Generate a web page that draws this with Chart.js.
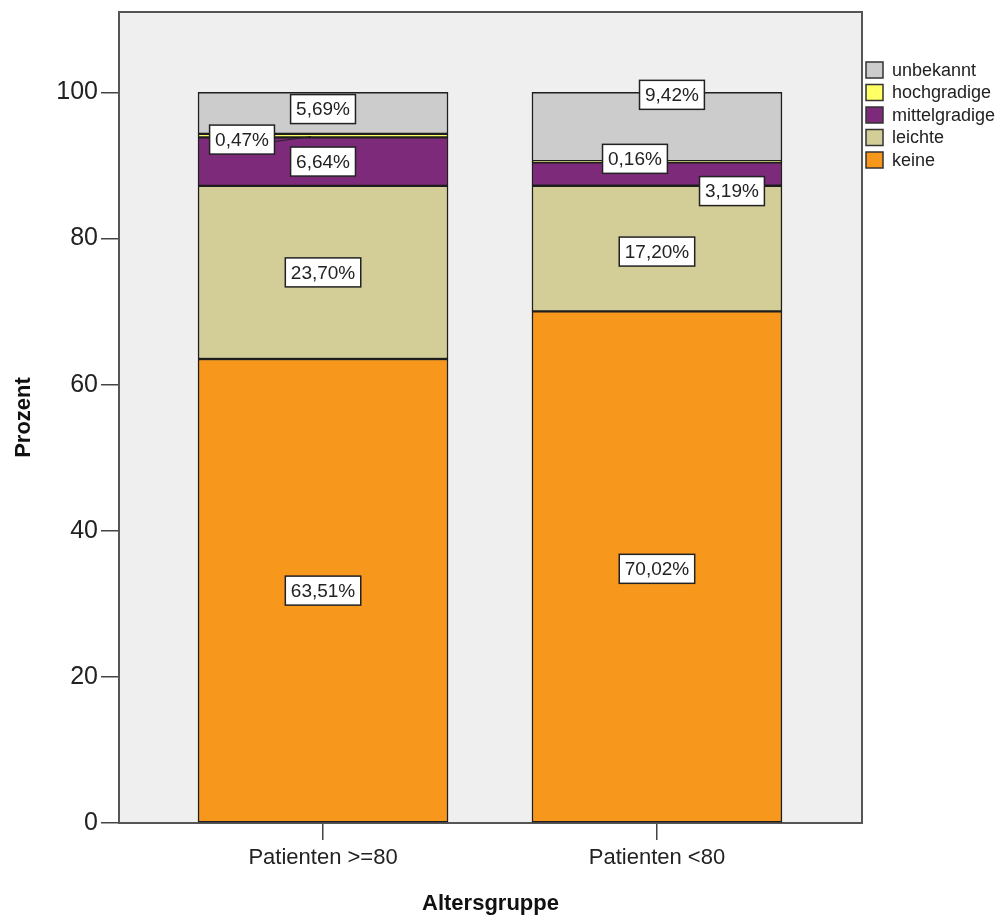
<!DOCTYPE html>
<html>
<head>
<meta charset="utf-8">
<script src="https://cdn.jsdelivr.net/npm/chart.js@4/dist/chart.umd.min.js"></script>
<style>
  html, body { margin: 0; padding: 0; background: #fff; }
  #wrap { width: 1007px; height: 917px; }
</style>
</head>
<body>
<div id="wrap"><canvas id="chart" width="1007" height="917"></canvas></div>
<script>
// --- data ---
const categories = ['Patienten >=80', 'Patienten <80'];
const seriesNames = ['keine', 'leichte', 'mittelgradige', 'hochgradige', 'unbekannt'];
const keine = [63.51, 70.02];
const leichte = [23.70, 17.20];
const mittelgradige = [6.64, 3.19];
const hochgradige = [0.47, 0.16];
const unbekannt = [5.69, 9.42];
const yTicks = [0, 20, 40, 60, 80, 100];

// --- styling ---
const seriesColors = ['#f7981d', '#d3ce97', '#7d2a7a', '#ffff66', '#cccccc'];
const FONT = "'Liberation Sans', Arial, sans-serif";
// pixel nudges for the value boxes (dx, dy, leader line)
const labelNudge = [
    [[0, 0], [0, 2]],
    [[0, 0], [0, 3]],
    [[0, 0], [75, 17]],
    [[-81, 4, true], [-22, -3]],
    [[0, -4], [15, -32]]
];

const seriesValues = [keine, leichte, mittelgradige, hochgradige, unbekannt];

const datasets = seriesNames.map((name, i) => ({
    label: name,
    data: seriesValues[i].map((v, j) => ({ x: j, y: v })),
    backgroundColor: seriesColors[i],
    borderColor: '#1e1e1e',
    borderWidth: 1.5,
    borderSkipped: false,
    barThickness: 250
}));

function fmt(v) {
    return v.toFixed(2).replace('.', ',') + '%';
}

const plotFrame = {
    id: 'plotFrame',
    beforeDatasetsDraw(chart) {
        const { ctx, chartArea: a } = chart;
        ctx.save();
        ctx.fillStyle = '#efefef';
        ctx.fillRect(a.left, a.top, a.right - a.left, a.bottom - a.top);
        ctx.strokeStyle = '#555';
        ctx.lineWidth = 2;
        ctx.strokeRect(a.left, a.top, a.right - a.left, a.bottom - a.top);
        ctx.restore();
    }
};

const valueBoxes = {
    id: 'valueBoxes',
    afterDatasetsDraw(chart) {
        const ctx = chart.ctx;
        ctx.save();
        ctx.font = '19px ' + FONT;
        ctx.textAlign = 'center';
        ctx.textBaseline = 'middle';
        chart.data.datasets.forEach((ds, i) => {
            const meta = chart.getDatasetMeta(i);
            meta.data.forEach((bar, j) => {
                const v = ds.data[j].y;
                const nudge = labelNudge[i][j];
                const cx = bar.x, cy = (bar.y + bar.base) / 2;
                const x = cx + nudge[0], y = cy + nudge[1];
                const txt = fmt(v);
                const w = ctx.measureText(txt).width + 11, h = 29;
                if (nudge[2]) {
                    ctx.strokeStyle = '#222';
                    ctx.lineWidth = 1;
                    ctx.beginPath();
                    ctx.moveTo(x + w / 2, y + 2);
                    ctx.lineTo(cx - 12, cy + 1);
                    ctx.stroke();
                }
                ctx.fillStyle = '#fff';
                ctx.fillRect(x - w / 2, y - h / 2, w, h);
                ctx.strokeStyle = '#222';
                ctx.lineWidth = 1.5;
                ctx.strokeRect(x - w / 2, y - h / 2, w, h);
                ctx.fillStyle = '#222';
                ctx.fillText(txt, x, y + 1);
            });
        });
        ctx.restore();
    }
};

const sideLegend = {
    id: 'sideLegend',
    afterDraw(chart) {
        const ctx = chart.ctx;
        const a = chart.chartArea;
        const items = chart.data.datasets.slice().reverse();
        ctx.save();
        ctx.font = '18px ' + FONT;
        ctx.textBaseline = 'middle';
        items.forEach((ds, k) => {
            const y = 70 + k * 22.5;
            const x = a.right + 4;
            ctx.fillStyle = ds.backgroundColor;
            ctx.fillRect(x, y - 8, 17, 16);
            ctx.strokeStyle = '#333';
            ctx.lineWidth = 1.5;
            ctx.strokeRect(x, y - 8, 17, 16);
            ctx.fillStyle = '#222';
            ctx.fillText(ds.label, x + 26, y + 1);
        });
        ctx.restore();
    }
};

new Chart(document.getElementById('chart'), {
    type: 'bar',
    data: { datasets },
    plugins: [plotFrame, valueBoxes, sideLegend],
    options: {
        responsive: false,
        animation: false,
        devicePixelRatio: 1,
        layout: { padding: { top: 12, right: 145, left: 0, bottom: 0 } },
        plugins: {
            legend: { display: false },
            tooltip: { enabled: false }
        },
        scales: {
            x: {
                type: 'linear',
                stacked: true,
                offset: false,
                min: -0.611,
                max: 1.614,
                afterBuildTicks: s => { s.ticks = categories.map((c, i) => ({ value: i })); },
                afterFit: s => { s.height = 94; s.paddingLeft = 0; s.paddingRight = 0; },
                ticks: {
                    callback: v => categories[v],
                    color: '#222',
                    font: { family: FONT, size: 22 },
                    padding: 5,
                    maxRotation: 0,
                    autoSkip: false
                },
                grid: { drawOnChartArea: false, offset: false, tickLength: 17, color: '#444', lineWidth: 1.5 },
                border: { display: false },
                title: {
                    display: true,
                    text: 'Altersgruppe',
                    color: '#111',
                    font: { family: FONT, size: 22, weight: 'bold', lineHeight: 1.2 },
                    padding: { top: 0, bottom: 0 }
                }
            },
            y: {
                stacked: true,
                min: 0,
                max: 111,
                afterBuildTicks: s => { s.ticks = yTicks.map(v => ({ value: v })); },
                afterFit: s => { s.width = 119; s.paddingTop = 0; s.paddingBottom = 0; },
                ticks: {
                    color: '#222',
                    font: { family: FONT, size: 25 },
                    padding: 3
                },
                grid: { drawOnChartArea: false, tickLength: 18, color: '#444', lineWidth: 1.5 },
                border: { display: false },
                title: {
                    display: true,
                    text: 'Prozent',
                    color: '#111',
                    font: { family: FONT, size: 22, weight: 'bold', lineHeight: 1.2 },
                    padding: { top: 11, bottom: 0 }
                }
            }
        }
    }
});
</script>
</body>
</html>
